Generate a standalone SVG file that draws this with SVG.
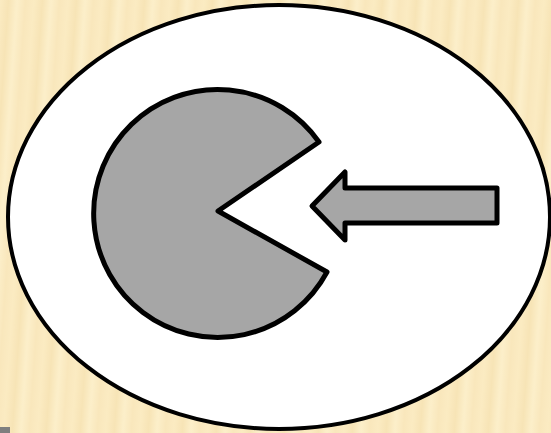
<svg xmlns="http://www.w3.org/2000/svg" width="551" height="433" viewBox="0 0 551 433">
  <defs>
    <linearGradient id="stripe" x1="0" y1="0" x2="1" y2="0">
      <stop offset="0" stop-color="#FBEBC2"/>
      <stop offset="0.25" stop-color="#F7E4B6"/>
      <stop offset="0.5" stop-color="#FCEFCA"/>
      <stop offset="0.75" stop-color="#F9E7BC"/>
      <stop offset="1" stop-color="#FBEBC2"/>
    </linearGradient>
    <pattern id="bg" width="34" height="433" patternUnits="userSpaceOnUse" patternTransform="skewX(-4)">
      <rect width="34" height="433" fill="url(#stripe)"/>
    </pattern>
  </defs>
  <style>
    .shape { fill: #A6A6A6; stroke: #000; stroke-width: 5; stroke-linejoin: round; }
  </style>
  <rect x="0" y="0" width="551" height="433" fill="#FBEBC2"/>
  <rect x="-40" y="0" width="630" height="433" fill="url(#bg)"/>
  <rect x="0" y="427" width="10" height="6" fill="#7F7F7F"/>
  <g id="oval">
    <ellipse cx="279" cy="217" rx="271" ry="212" fill="#FFFFFF" stroke="#000" stroke-width="4"/>
  </g>
  <g id="pacman">
    <path class="shape" d="M 218 211 L 319 142 A 124 124 0 1 0 327 272 Z"/>
  </g>
  <g id="connectors">
    <polygon class="shape" points="312,206 345,172 345,188 497,188 497,223 345,223 345,240"/>
  </g>
</svg>
